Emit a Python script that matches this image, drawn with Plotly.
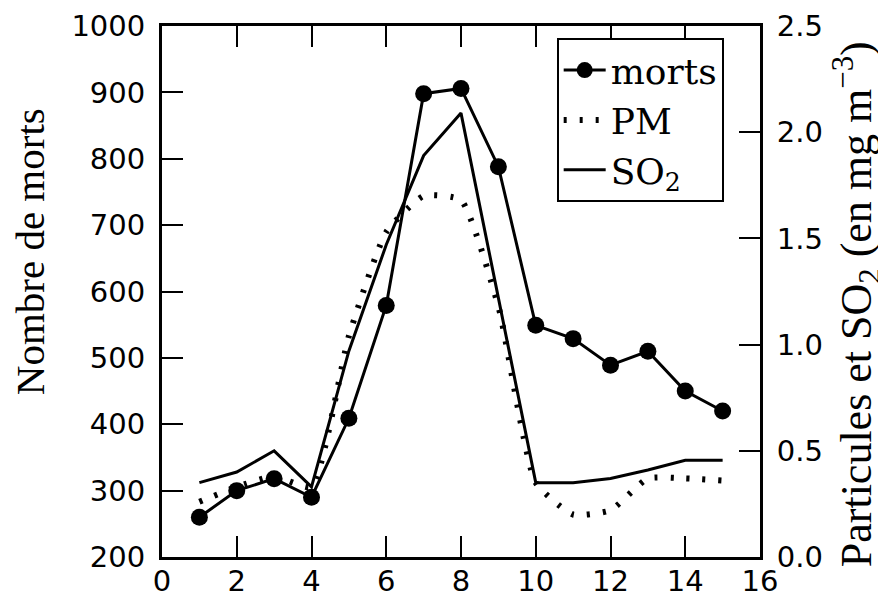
import plotly.graph_objects as go

# Data
days = [1, 2, 3, 4, 5, 6, 7, 8, 9, 10, 11, 12, 13, 14, 15]
morts = [260, 300, 318, 290, 409, 579, 898, 906, 788, 549, 529, 489, 510, 450, 420]
pm = [0.26, 0.33, 0.38, 0.33, 1.04, 1.53, 1.70, 1.68, 1.18, 0.35, 0.20, 0.22, 0.37, 0.37, 0.36]
so2 = [0.35, 0.40, 0.50, 0.33, 0.97, 1.47, 1.89, 2.09, 1.22, 0.35, 0.35, 0.37, 0.41, 0.455, 0.455]

x_ticks = [0, 2, 4, 6, 8, 10, 12, 14, 16]
y_left_ticks = [200, 300, 400, 500, 600, 700, 800, 900, 1000]
y_right_ticks = [0.0, 0.5, 1.0, 1.5, 2.0, 2.5]

SERIF = "Liberation Serif"
TICKFONT = dict(family="DejaVu Sans", size=29, color="black")

fig = go.Figure()

fig.add_trace(go.Scatter(
    x=days, y=morts, name="morts", mode="lines+markers",
    line=dict(color="black", width=3),
    marker=dict(color="black", size=17),
    yaxis="y",
))
fig.add_trace(go.Scatter(
    x=days, y=pm, name="PM", mode="lines",
    line=dict(color="black", width=6, dash="3px,13px", shape="spline", smoothing=0.5),
    yaxis="y2",
))
fig.add_trace(go.Scatter(
    x=days, y=so2, name="SO<sub>2</sub>", mode="lines",
    line=dict(color="black", width=3),
    yaxis="y2",
))

# The page body has an 8px margin: figure is sized/offset to compensate.
fig.update_layout(
    width=878, height=591,
    margin=dict(l=154, r=126, t=18, b=42, autoexpand=False),
    paper_bgcolor="white", plot_bgcolor="white",
    showlegend=True,
    legend=dict(
        x=0.66, y=0.977, xanchor="left", yanchor="top",
        bgcolor="white", bordercolor="black", borderwidth=2,
        font=dict(family="DejaVu Serif", size=36, color="black"),
        tracegroupgap=0, itemwidth=42,
    ),
    xaxis=dict(
        range=[0, 16], tickvals=x_ticks, ticktext=[str(v) for v in x_ticks],
        ticks="inside", ticklen=21, tickwidth=2, tickcolor="black",
        showline=True, linecolor="black", linewidth=3, mirror="ticks",
        showgrid=False, zeroline=False, tickfont=TICKFONT,
        ticklabelstandoff=-4, automargin=False,
    ),
    yaxis=dict(
        range=[200, 1000], tickvals=y_left_ticks, ticktext=[str(v) for v in y_left_ticks],
        ticks="inside", ticklen=21, tickwidth=2, tickcolor="black",
        showline=True, linecolor="black", linewidth=3, mirror=False,
        showgrid=False, zeroline=False, tickfont=TICKFONT,
        ticklabelstandoff=8, automargin=False,
    ),
    yaxis2=dict(
        range=[0, 2.5], tickvals=y_right_ticks, ticktext=[f"{v:.1f}" for v in y_right_ticks],
        overlaying="y", side="right", anchor="x",
        ticks="inside", ticklen=21, tickwidth=2, tickcolor="black",
        showline=True, linecolor="black", linewidth=3,
        showgrid=False, zeroline=False, tickfont=TICKFONT,
        ticklabelstandoff=8, automargin=False,
    ),
    annotations=[
        dict(text="Nombre de morts", xref="paper", yref="paper",
             x=0, y=0.574, xshift=-132, xanchor="center", yanchor="middle",
             textangle=-90, showarrow=False,
             font=dict(family=SERIF, size=41, color="black")),
        dict(text="Particules et SO<sub>2</sub> (en mg m<sup>−3</sup>)", xref="paper", yref="paper",
             x=1, y=0.476, xshift=97, xanchor="center", yanchor="middle",
             textangle=-90, showarrow=False,
             font=dict(family=SERIF, size=44, color="black")),
    ],
)

fig.write_html("out.html")
